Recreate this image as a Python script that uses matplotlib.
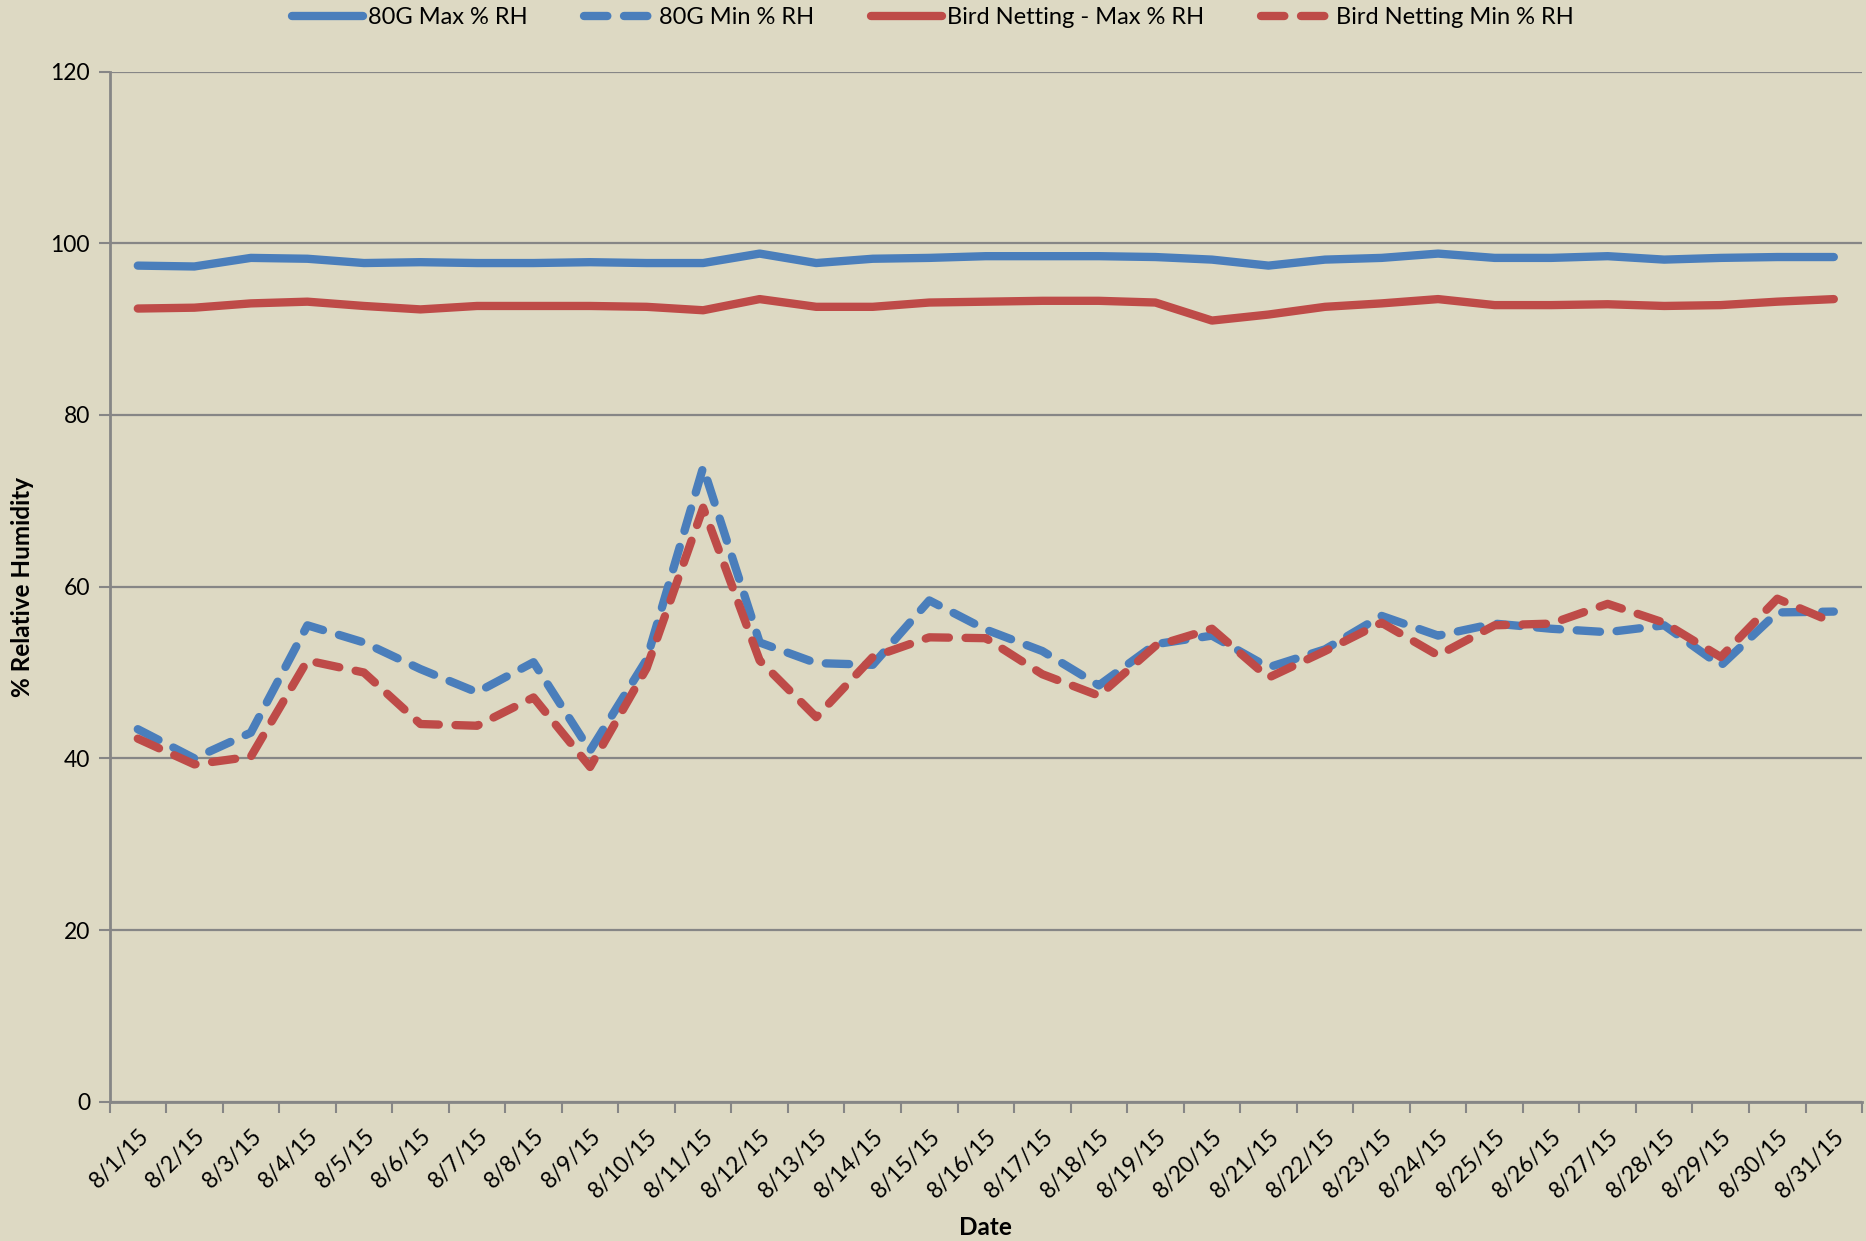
import numpy as np
import matplotlib
matplotlib.use("Agg")
import matplotlib.pyplot as plt

# Daily RH readings, August 2015
dates = ["8/%d/15" % d for d in range(1, 32)]

g80_max = [97.4, 97.3, 98.3, 98.2, 97.7, 97.8, 97.7, 97.7, 97.8, 97.7, 97.7,
           98.8, 97.7, 98.2, 98.3, 98.5, 98.5, 98.5, 98.4, 98.1, 97.4, 98.1,
           98.3, 98.8, 98.3, 98.3, 98.5, 98.1, 98.3, 98.4, 98.4]
g80_min = [43.4, 40.0, 43.0, 55.5, 53.5, 50.4, 47.7, 51.2, 40.9, 51.5, 73.9,
           53.5, 51.1, 50.9, 58.4, 55.0, 52.5, 48.5, 53.3, 54.3, 50.6, 52.7,
           56.6, 54.3, 55.7, 55.1, 54.7, 55.5, 50.8, 57.0, 57.1]
bird_max = [92.4, 92.5, 93.0, 93.2, 92.7, 92.3, 92.7, 92.7, 92.7, 92.6, 92.2,
            93.5, 92.6, 92.6, 93.1, 93.2, 93.3, 93.3, 93.1, 91.0, 91.7, 92.6,
            93.0, 93.5, 92.8, 92.8, 92.9, 92.7, 92.8, 93.2, 93.5]
bird_min = [42.3, 39.3, 40.2, 51.4, 50.0, 44.0, 43.8, 47.1, 39.0, 50.5, 69.2,
            51.4, 44.8, 51.8, 54.1, 54.0, 49.8, 47.3, 53.1, 55.1, 49.4, 52.5,
            55.8, 52.0, 55.5, 55.7, 58.0, 55.8, 51.8, 58.6, 55.8]

bg = "#DDD9C3"
blue = "#4A7EBB"
red = "#BE4B48"
grid_c = "#868686"

plt.rcParams["font.family"] = ["Lato", "DejaVu Sans"]

fig = plt.figure(figsize=(18.66, 12.41), dpi=100, facecolor=bg)
ax = fig.add_axes([0.0587, 0.1122, 0.9392, 0.8301], facecolor=bg)

x = np.arange(len(dates))
lw = 6
dash = (2.8, 2.0)
ax.plot(x, g80_max, color=blue, lw=lw, solid_capstyle="round",
        solid_joinstyle="round", label="80G Max % RH", zorder=3)
ax.plot(x, g80_min, color=blue, lw=lw, dashes=dash, dash_capstyle="round",
        dash_joinstyle="round", label="80G Min % RH", zorder=3)
ax.plot(x, bird_max, color=red, lw=lw, solid_capstyle="round",
        solid_joinstyle="round", label="Bird Netting - Max % RH", zorder=3)
ax.plot(x, bird_min, color=red, lw=lw, dashes=dash, dash_capstyle="round",
        dash_joinstyle="round", label="Bird Netting Min % RH", zorder=3)

ax.set_xlim(-0.5, len(dates) - 0.5)
ax.set_ylim(0, 120)
ax.set_yticks(range(0, 121, 20))
ax.yaxis.grid(True, color=grid_c, lw=1.6)
ax.set_axisbelow(True)

# category boundaries get tick marks, labels sit at the centres
ax.set_xticks(np.arange(-0.5, len(dates), 1.0))
ax.set_xticklabels([])
ax.set_xticks(x, minor=True)
ax.set_xticklabels(dates, minor=True, rotation=45, ha="right",
                   rotation_mode="anchor", fontsize=16.5)
ax.tick_params(axis="x", which="major", length=8, color=grid_c, width=1.5)
ax.tick_params(axis="x", which="minor", length=0, pad=17)
ax.tick_params(axis="y", length=8, color=grid_c, width=1.5, labelsize=16.5, pad=6)

for s in ["top", "right"]:
    ax.spines[s].set_visible(False)
for s in ["left", "bottom"]:
    ax.spines[s].set_color(grid_c)
    ax.spines[s].set_linewidth(2)

ax.set_ylabel("% Relative Humidity", fontsize=17.5, fontweight="bold", labelpad=12)
ax.set_xlabel("Date", fontsize=17.5, fontweight="bold", labelpad=10)

leg = fig.legend(loc="center", bbox_to_anchor=(0.5, 0.986), ncol=4,
                 frameon=False, fontsize=17, handlelength=3.0,
                 columnspacing=2.4, handletextpad=0.2)

fig.savefig("out.png", dpi=100, facecolor=bg)
